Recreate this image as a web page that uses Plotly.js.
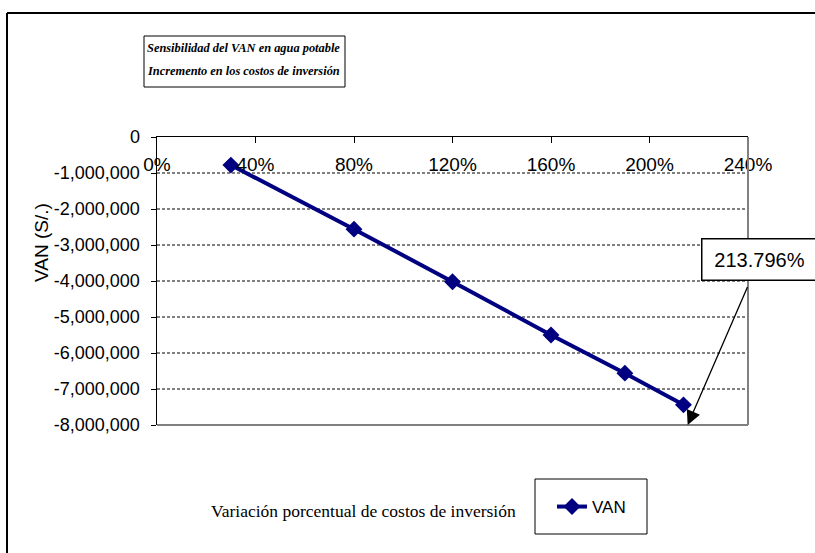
<!DOCTYPE html>
<html>
<head>
<meta charset="utf-8">
<script src="https://cdn.plot.ly/plotly-3.0.1.min.js"></script>
<style>
html,body{margin:0;padding:0;background:#fff;}
#chart{width:815px;height:553px;}
</style>
</head>
<body>
<div id="chart"></div>
<script>
// Data
const seriesName = 'VAN';
const xPercent = [30, 80, 120, 160, 190, 213.796];
const vanValues = [-780000, -2560000, -4020000, -5500000, -6560000, -7440000];
const xTickVals = [0, 40, 80, 120, 160, 200, 240];
const xTickText = ['0%', '40%', '80%', '120%', '160%', '200%', '240%'];
const yTickVals = [0, -1000000, -2000000, -3000000, -4000000, -5000000, -6000000, -7000000, -8000000];
const yTickText = ['0', '-1,000,000', '-2,000,000', '-3,000,000', '-4,000,000', '-5,000,000', '-6,000,000', '-7,000,000', '-8,000,000'];
const titleLines = ['Sensibilidad del VAN en agua potable', 'Incremento en los costos de inversión'];
const xAxisTitle = 'Variación porcentual de costos de inversión';
const yAxisTitle = 'VAN (S/.)';
const calloutText = '213.796%';

const navy = '#000080';
const sans = 'Liberation Sans, Arial, sans-serif';
const serif = 'Liberation Serif, Times New Roman, serif';

// plot box in pixels: left 157, top 137, width 591, height 288
const L = 157, T = 137, W = 591, H = 288;
const px = v => (v - L) / W;
const py = v => (T + H - v) / H;

const trace = {
  x: xPercent, y: vanValues, name: seriesName,
  type: 'scatter', mode: 'lines+markers',
  line: {color: navy, width: 4},
  marker: {symbol: 'diamond', size: 13, color: navy},
  cliponaxis: false
};
// same data on the label axis (invisible) so the secondary x axis is drawn
const labelTrace = {
  x: xPercent, y: vanValues, xaxis: 'x2', yaxis: 'y',
  type: 'scatter', mode: 'markers', marker: {opacity: 0, size: 1},
  showlegend: false, hoverinfo: 'skip'
};

const gridShapes = yTickVals.filter(v => v !== 0 && v !== -8000000).map(v => ({
  type: 'line', xref: 'paper', x0: 0, x1: 1, yref: 'y', y0: v, y1: v,
  line: {color: '#000', width: 1, dash: '3px,2px'}, layer: 'below'
}));

const layout = {
  width: 815, height: 553,
  margin: {l: L, r: 815 - L - W, t: T, b: 553 - T - H},
  paper_bgcolor: '#fff', plot_bgcolor: '#fff',
  showlegend: true,
  legend: {
    x: px(552), y: py(507), xanchor: 'left', yanchor: 'middle',
    borderwidth: 0, bgcolor: 'rgba(0,0,0,0)',
    font: {family: sans, size: 17, color: '#000'}
  },
  xaxis: {
    range: [0, 240], side: 'top',
    tickvals: xTickVals, ticktext: xTickText, showticklabels: false,
    ticks: 'inside', ticklen: 6, tickcolor: '#000', tickwidth: 1,
    showline: true, linecolor: '#000', linewidth: 1.5,
    showgrid: false, zeroline: false
  },
  xaxis2: {
    range: [0, 240], overlaying: 'x', anchor: 'free', position: py(151), side: 'bottom',
    tickvals: xTickVals, ticktext: xTickText,
    ticks: '', showline: false, showgrid: false, zeroline: false,
    tickfont: {family: sans, size: 19, color: '#000'}
  },
  yaxis: {
    range: [-8000000, 0],
    tickvals: yTickVals, ticktext: yTickText,
    ticks: 'outside', ticklen: 5, tickcolor: '#000', tickwidth: 1,
    ticklabelstandoff: 7,
    showline: true, linecolor: '#000', linewidth: 1.5,
    showgrid: false, zeroline: false,
    tickfont: {family: sans, size: 18, color: '#000'}
  },
  shapes: [
    // plot area gray right/bottom border
    {type: 'line', xref: 'paper', yref: 'paper', x0: 1, x1: 1, y0: 0, y1: 1,
     line: {color: '#808080', width: 2}},
    {type: 'line', xref: 'paper', yref: 'paper', x0: 0, x1: 1, y0: 0, y1: 0,
     line: {color: '#808080', width: 2}},
    // outer chart frame (left and top visible)
    {type: 'line', xref: 'paper', yref: 'paper', x0: px(7), x1: px(7), y0: py(560), y1: py(13),
     line: {color: '#000', width: 2}},
    {type: 'line', xref: 'paper', yref: 'paper', x0: px(7), x1: px(830), y0: py(13), y1: py(13),
     line: {color: '#000', width: 2}},
    // title box
    {type: 'rect', xref: 'paper', yref: 'paper', x0: px(144), x1: px(345), y0: py(87), y1: py(36),
     line: {color: '#000', width: 1}, fillcolor: '#fff'},
    // legend box
    {type: 'rect', xref: 'paper', yref: 'paper', x0: px(535), x1: px(647), y0: py(534), y1: py(479),
     line: {color: '#000', width: 1}, fillcolor: 'rgba(0,0,0,0)'}
  ].concat(gridShapes),
  annotations: [
    {
      xref: 'paper', yref: 'paper', x: px(342), y: py(48), xanchor: 'right', yanchor: 'middle',
      text: '<b><i>' + titleLines[0] + '</i></b>', showarrow: false,
      font: {family: serif, size: 12.4, color: '#000'}
    },
    {
      xref: 'paper', yref: 'paper', x: px(342), y: py(71), xanchor: 'right', yanchor: 'middle',
      text: '<b><i>' + titleLines[1] + '</i></b>', showarrow: false,
      font: {family: serif, size: 12.4, color: '#000'}
    },
    {
      xref: 'paper', yref: 'paper', x: px(363), y: py(511), xanchor: 'center', yanchor: 'middle',
      text: xAxisTitle, showarrow: false,
      font: {family: serif, size: 17.5, color: '#000'}
    },
    {
      xref: 'paper', yref: 'paper', x: px(41), y: py(243), xanchor: 'center', yanchor: 'middle',
      text: yAxisTitle, showarrow: false, textangle: -90,
      font: {family: sans, size: 19, color: '#000'}
    },
    {
      xref: 'x', yref: 'y', x: 215.5, y: -8000000,
      text: calloutText, showarrow: true,
      ax: 72, ay: -166, axref: 'pixel', ayref: 'pixel',
      arrowhead: 2, arrowsize: 2.2, arrowwidth: 1.3, arrowcolor: '#000',
      startstandoff: 8,
      font: {family: sans, size: 20, color: '#000'},
      bordercolor: '#000', borderwidth: 1.5, bgcolor: '#fff',
      width: 112, height: 38, align: 'center'
    }
  ]
};

Plotly.newPlot('chart', [trace, labelTrace], layout, {displayModeBar: false, staticPlot: true});
</script>
</body>
</html>
